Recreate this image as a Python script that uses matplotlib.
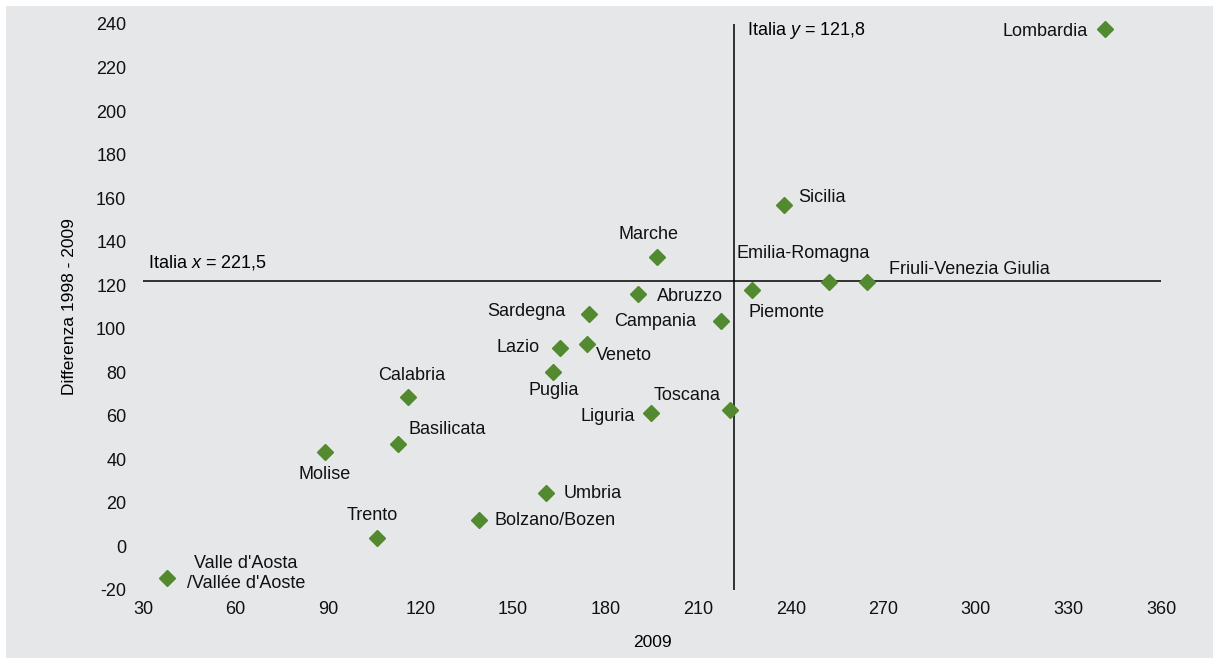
import matplotlib.pyplot as plt
from matplotlib.patches import Rectangle

plt.rcParams['font.family'] = ['Liberation Sans', 'DejaVu Sans']
plt.rcParams['axes.unicode_minus'] = False
plt.rcParams['mathtext.fontset'] = 'custom'
plt.rcParams['mathtext.rm'] = 'Liberation Sans'
plt.rcParams['mathtext.it'] = 'Liberation Sans:italic'

# Regioni: valore 2009 (x) e differenza 1998 - 2009 (y)
regioni = ["Valle d'Aosta\n/Vallée d'Aoste", "Molise", "Trento", "Basilicata", "Calabria",
           "Bolzano/Bozen", "Umbria", "Puglia", "Lazio", "Veneto", "Sardegna", "Abruzzo",
           "Marche", "Liguria", "Campania", "Toscana", "Piemonte", "Sicilia",
           "Emilia-Romagna", "Friuli-Venezia Giulia", "Lombardia"]
valori_2009 = [37.8, 89.0, 105.9, 112.7, 116.0, 139.0, 160.7, 163.0, 165.2, 174.0, 174.5,
               190.5, 196.7, 194.8, 217.5, 220.4, 227.5, 237.9, 252.5, 264.8, 342.0]
differenza = [-14.3, 43.2, 4.1, 46.9, 68.5, 12.0, 24.4, 80.0, 91.0, 92.9, 106.7,
              115.9, 132.9, 61.2, 103.5, 62.5, 117.7, 156.8, 121.4, 121.4, 237.7]

italia_x = 221.5
italia_y = 121.8

# Posizione delle etichette (offset in pixel, allineamento)
offset = [(79, 4, 'center'), (0, -22, 'center'), (-5, 22, 'center'), (10, 15, 'left'),
          (3, 22, 'center'), (15, 0, 'left'), (17, 0, 'left'), (0, -18, 'center'),
          (-20, 1, 'right'), (9, -11, 'left'), (-23, 3, 'right'), (19, -2, 'left'),
          (-9, 23, 'center'), (-17, -3, 'right'), (-25, 0, 'right'), (-10, 15, 'right'),
          (-4, -22, 'left'), (14, 8, 'left'), (-26, 29, 'center'), (22, 13, 'left'),
          (-18, -2, 'right')]

grau = '#e6e7e8'
gruen = '#538a2f'

fig = plt.figure(figsize=(12.13, 6.58), dpi=100)
fig.patch.set_facecolor('white')
fig.patches.append(Rectangle((6 / 1213, 0), 1, 1 - 6 / 658, transform=fig.transFigure,
                             facecolor=grau, edgecolor='none', zorder=-10))
ax = fig.add_axes([143 / 1213, 1 - 590 / 658, (1161 - 143) / 1213, (590 - 24) / 658])
ax.set_facecolor(grau)

ax.axvline(italia_x, color='black', lw=1.1, zorder=1)
ax.axhline(italia_y, color='black', lw=1.1, zorder=1)
ax.plot(valori_2009, differenza, 'D', color=gruen, markersize=8.5, zorder=3, clip_on=False)

for nome, x, y, (dx, dy, ha) in zip(regioni, valori_2009, differenza, offset):
    ax.annotate(nome, (x, y), xytext=(dx, dy), textcoords='offset pixels',
                ha=ha, va='center', fontsize=13, multialignment='center', color='#111111')

ax.text(225.9, 236.8, 'Italia $y$ = 121,8', fontsize=13, va='center', ha='left')
ax.text(31.6, 130.6, 'Italia $x$ = 221,5', fontsize=13, va='center', ha='left')

ax.set_xlim(30, 360)
ax.set_ylim(-20, 240)
ax.set_xticks(range(30, 361, 30))
ax.set_yticks(range(-20, 241, 20))
ax.tick_params(length=0, labelsize=13, colors='#111111')
ax.tick_params(axis='y', pad=12)
ax.tick_params(axis='x', pad=8)
for s in ax.spines.values():
    s.set_visible(False)

ax.set_xlabel('2009', fontsize=12.5, labelpad=12)
ax.set_ylabel('Differenza 1998 - 2009', fontsize=12.5, labelpad=14)

plt.savefig('out.png', dpi=100, facecolor=fig.get_facecolor())
